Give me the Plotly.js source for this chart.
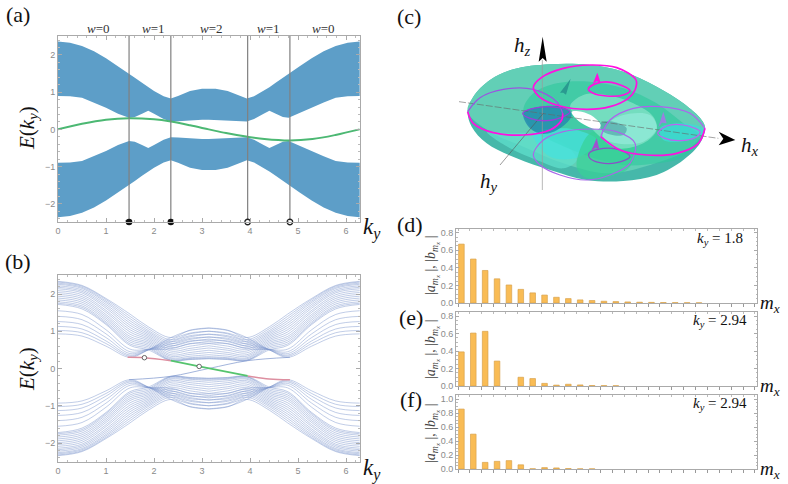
<!DOCTYPE html>
<html>
<head>
<meta charset="utf-8">
<script src="https://cdn.plot.ly/plotly-3.0.1.min.js"></script>
<style>html,body{margin:0;padding:0;background:#fff}</style>
</head>
<body>
<div id="my_plot" style="width:788px;height:484px"></div>
<script>
// panel (a): band edges, read at these ky on the left half, the right half mirrors it
var ky_half = [0, .25, .5, .75, 1, 1.25, 1.48, 1.6, 1.75, 1.88, 2, 2.2, 2.35, 2.5, 2.75, 3, 3.14];
var band_outer = [2.36, 2.33, 2.24, 2.1, 1.91, 1.70, 1.50, 1.39, 1.25, 1.13, 1.03, .89, .83, .90, 1.03, 1.09, 1.10];
var band_inner = [.90, .89, .85, .72, .58, .42, .31, .33, .42, .50, .42, .28, .21, .22, .25, .26, .26];
var edge_ky = [0, .5, 1, 1.48, 2, 2.35, 2.75, 3.14, 3.5, 3.95, 4.3, 4.83, 5.3, 5.78, 6.28];
var edge_E = [0, .15, .26, .30, .27, .21, .11, 0, -.1, -.2, -.26, -.3, -.26, -.15, 0];
var transition_ky = [1.48, 2.35, 3.95, 4.83];
var winding_labels = ["w=0", "w=1", "w=2", "w=1", "w=0"];

// panel (b): one value per level at each knot
var level_ky = [0, .5, 1, 1.5, 1.88, 2.35, 2.75, 3.14];
var lev_0 = [.93, 1.02, 1.13, 1.26, 1.40, 1.55, 1.72, 1.75, 1.79, 1.84, 1.89, 1.94, 1.99, 2.04, 2.09, 2.14, 2.18, 2.22, 2.26, 2.29, 2.32, 2.34];
var lev_05 = [.87, .96, 1.06, 1.18, 1.31, 1.45, 1.60, 1.64, 1.68, 1.73, 1.78, 1.83, 1.88, 1.93, 1.98, 2.03, 2.07, 2.11, 2.15, 2.18, 2.21, 2.23];
var lev_1 = [.60, .67, .74, .83, .93, 1.04, 1.18, 1.21, 1.25, 1.30, 1.35, 1.40, 1.45, 1.51, 1.56, 1.62, 1.67, 1.72, 1.77, 1.81, 1.85, 1.88];
var lev_15 = [.30, .33, .36, .40, .45, .52, .62, .66, .71, .76, .81, .86, .92, .98, 1.04, 1.10, 1.16, 1.22, 1.28, 1.34, 1.40, 1.46];
var lev_188 = [.50, .50, .50, .51, .51, .51, .50, .54, .58, .62, .66, .70, .74, .78, .82, .86, .90, .94, .98, 1.02, 1.07, 1.12];
var lev_235 = [.83, .77, .71, .65, .59, .53, .21, .22, .23, .26, .29, .33, .37, .42, .47, .52, .57, .62, .67, .72, .77, .83];
var lev_275 = [1.02, .95, .88, .81, .74, .67, .24, .25, .27, .29, .33, .38, .43, .49, .54, .60, .66, .72, .78, .85, .93, 1.03];
var lev_pi = [1.08, 1.00, .92, .84, .76, .68, .26, .27, .29, .32, .37, .43, .49, .55, .61, .67, .73, .79, .85, .92, 1.00, 1.09];
var red_left_ky = [1.45, 1.8, 2.35];
var red_left_E = [.30, .29, .21];
var green_ky = [2.35, 2.94, 3.95];
var green_E = [.21, .055, -.2];
var red_right_ky = [3.95, 4.4, 4.83];
var red_right_E = [-.2, -.28, -.3];
var blue_edge_ky = [1.48, 2.35, 3.14, 3.95, 4.83];
var blue_edge_E = [-.3, -.21, 0, .21, .3];
var mark_ky = [1.8, 2.94];
var mark_E = [.29, .055];

// panels (d) (e) (f): bar heights
var mx = [];
for (var m = 0; m < 25; m++) mx.push(m);
var bars_d = [.67, .50, .37, .275, .205, .155, .115, .09, .065, .05, .035, .028, .02, .016, .012, .009, .007, .005, .004, .003, .002, null, null, null, null];
var bars_e = [.39, .605, .625, .285, null, .10, .085, .03, .01, .02, .012, .005, .004, .003, null, null, null, null, null, null, null, null, null, null, null];
var bars_f = [.86, .50, .095, .11, .12, .06, .003, .02, .015, .006, .002, .002, null, null, null, null, null, null, null, null, null, null, null, null, null];

// panel (c): outlines (x to the right, y downwards, 3 units per pixel)
var torus_x = [233, 250, 300, 370, 480, 600, 700, 800, 880, 935, 945, 930, 880, 800, 700, 590, 480, 380, 290, 245, 233];
var torus_y = [335, 290, 240, 208, 193, 195, 215, 260, 310, 360, 385, 430, 480, 525, 543, 540, 510, 475, 430, 380, 335];
var top_x = [233, 250, 300, 370, 480, 600, 700, 800, 880, 935, 945, 900, 780, 650, 520, 400, 300, 233];
var top_y = [335, 290, 240, 208, 193, 195, 215, 260, 310, 360, 385, 445, 495, 520, 490, 440, 395, 335];
var ring_x = [400, 430, 500, 600, 700, 800, 880, 930, 880, 800, 700, 600, 500, 430, 400];
var ring_y = [330, 280, 250, 245, 265, 310, 370, 410, 470, 490, 495, 470, 430, 390, 330];
var inner_x = [540, 580, 650, 730, 790, 800, 760, 680, 630, 590, 540];
var inner_y = [320, 285, 285, 310, 350, 390, 430, 445, 410, 370, 320];
var shade_x = [400, 440, 520, 545, 510, 460, 420, 400];
var shade_y = [340, 322, 322, 345, 385, 402, 385, 340];
var cyan_x = [430, 510, 560, 620, 570, 480, 430];
var cyan_y = [400, 385, 390, 420, 470, 470, 400];
var lower_left_x = [290, 350, 430, 520, 560, 520, 440, 360, 290];
var lower_left_y = [395, 400, 400, 430, 480, 505, 480, 445, 395];
var green_patch_x = [600, 650, 730, 720, 660, 590, 560, 600];
var green_patch_y = [400, 400, 440, 500, 530, 535, 500, 400];
var light_x = [650, 700, 780, 800, 760, 680, 640, 650];
var light_y = [375, 345, 345, 385, 425, 430, 410, 375];
var dark_x = [630, 670, 710, 700, 640, 630];
var dark_y = [370, 365, 385, 405, 395, 370];
var right_x = [810, 860, 930, 945, 900, 820, 810];
var right_y = [385, 370, 380, 395, 420, 420, 385];
var hole_x = [545, 575, 610, 632, 625, 590, 560, 545];
var hole_y = [335, 335, 350, 375, 388, 378, 358, 335];

var left_front_x = [233, 250, 310, 400, 480, 515, 518];
var left_front_y = [335, 370, 398, 405, 390, 360, 340];
var left_back_x = [233, 270, 340, 430, 500, 518];
var left_back_y = [335, 293, 268, 268, 305, 340];
var left_small_x = [398, 430, 500, 540, 520, 470, 420, 398];
var left_small_y = [340, 325, 322, 335, 350, 362, 355, 340];
var top_big_x = [430, 455, 520, 600, 680, 738, 735, 715, 660, 590, 510, 450, 430];
var top_big_y = [262, 232, 205, 195, 203, 240, 270, 295, 320, 328, 318, 292, 262];
var top_small_x = [595, 620, 665, 720, 700, 650, 610, 595];
var top_small_y = [267, 250, 247, 272, 285, 288, 280, 267];
var low_big_x = [430, 460, 520, 600, 680, 735, 720, 660, 590, 510, 450, 430];
var low_big_y = [465, 420, 395, 387, 395, 430, 490, 525, 540, 525, 495, 465];
var low_small_x = [597, 640, 690, 720, 680, 630, 600, 597];
var low_small_y = [460, 445, 450, 470, 488, 488, 475, 460];
var right_front_x = [632, 690, 770, 860, 925, 945];
var right_front_y = [410, 450, 465, 460, 430, 385];
var right_back_x = [632, 660, 730, 810, 900, 945];
var right_back_y = [410, 360, 325, 320, 340, 385];
var right_small_x = [803, 830, 880, 930, 920, 870, 825, 803];
var right_small_y = [400, 378, 375, 395, 410, 422, 415, 400];

var head_top_x = [608, 622, 632, 620, 608];
var head_top_y = [252, 218, 248, 244, 252];
var head_low_x = [604, 620, 628, 616, 604];
var head_low_y = [452, 415, 448, 444, 452];
var head_right_x = [805, 820, 830, 816, 805];
var head_right_y = [382, 335, 370, 368, 382];
var head_back_x = [510, 542, 528, 520, 510];
var head_back_y = [278, 236, 284, 278, 278];
var arrow_z_x = [446, 458, 470, 458, 446];
var arrow_z_y = [185, 110, 185, 174, 185];
var arrow_x_x = [986, 1036, 986, 1000, 986];
var arrow_x_y = [395, 420, 436, 416, 395];

var full_ky = ky_half.concat(ky_half.slice().reverse().map(function (k) { return 2 * Math.PI - k; }));
function mirror(vals) { return vals.concat(vals.slice().reverse()); }
function neg(vals) { return vals.map(function (v) { return -v; }); }

var W = 788, H = 484;
function dx(a, b) { return [a / W, b / W]; }
function dy(top, bottom) { return [1 - bottom / H, 1 - top / H]; }

var data = [];

// --- (a)
var outer = mirror(band_outer), inner = mirror(band_inner);
data.push({ x: full_ky.concat(full_ky.slice().reverse()), y: outer.concat(inner.slice().reverse()), mode: "lines",
    fill: "toself", fillcolor: "#5d9ec8", line: { width: 0 }, xaxis: "x", yaxis: "y" });
data.push({ x: full_ky.concat(full_ky.slice().reverse()), y: neg(outer).concat(neg(inner).reverse()), mode: "lines",
    fill: "toself", fillcolor: "#5d9ec8", line: { width: 0 }, xaxis: "x", yaxis: "y" });
data.push({ x: edge_ky, y: edge_E, mode: "lines", line: { color: "#4cb873", width: 2, shape: "spline" }, xaxis: "x", yaxis: "y" });
transition_ky.forEach(function (k) {
    data.push({ x: [k, k], y: [-2.49, 2.51], mode: "lines", line: { color: "#808080", width: 1.2 }, xaxis: "x", yaxis: "y" });
});
data.push({ x: transition_ky.slice(0, 2), y: [-2.49, -2.49], mode: "markers", cliponaxis: false,
    marker: { color: "#111", size: 6.5 }, xaxis: "x", yaxis: "y" });
data.push({ x: transition_ky.slice(2), y: [-2.49, -2.49], mode: "markers", cliponaxis: false,
    marker: { color: "#fff", size: 5.5, line: { color: "#222", width: 1.3 } }, xaxis: "x", yaxis: "y" });

// --- (b)
var knots = [lev_0, lev_05, lev_1, lev_15, lev_188, lev_235, lev_275, lev_pi];
var level_full = level_ky.concat(level_ky.slice().reverse().map(function (k) { return 2 * Math.PI - k; }));
var level_line = { color: "rgba(125,150,205,0.6)", width: 0.8, shape: "spline" };
for (var i = 0; i < lev_0.length; i++) {
    var half = knots.map(function (arr) { return arr[i]; });
    var line_E = mirror(half);
    data.push({ x: level_full, y: line_E, mode: "lines", line: level_line, xaxis: "x2", yaxis: "y2" });
    data.push({ x: level_full, y: neg(line_E), mode: "lines", line: level_line, xaxis: "x2", yaxis: "y2" });
}
data.push({ x: blue_edge_ky, y: blue_edge_E, mode: "lines", line: { color: "rgba(125,150,205,0.8)", width: 0.9, shape: "spline" }, xaxis: "x2", yaxis: "y2" });
data.push({ x: red_left_ky, y: red_left_E, mode: "lines", line: { color: "#dd8fa0", width: 1.5, shape: "spline" }, xaxis: "x2", yaxis: "y2" });
data.push({ x: red_right_ky, y: red_right_E, mode: "lines", line: { color: "#dd8fa0", width: 1.5, shape: "spline" }, xaxis: "x2", yaxis: "y2" });
data.push({ x: green_ky, y: green_E, mode: "lines", line: { color: "#55c46e", width: 1.8, shape: "spline" }, xaxis: "x2", yaxis: "y2" });
data.push({ x: mark_ky, y: mark_E, mode: "markers", marker: { color: "#fff", size: 4.5, line: { color: "#444", width: 0.8 } }, xaxis: "x2", yaxis: "y2" });

// --- (d) (e) (f)
[[bars_d, "x3", "y3", "x7"], [bars_e, "x4", "y4", "x8"], [bars_f, "x5", "y5", "x9"]].forEach(function (b) {
    data.push({ type: "bar", x: mx, y: b[0], width: 0.47, offset: 0.05,
        marker: { color: "#f9bc55", line: { color: "#d9a24c", width: 0.7 } }, xaxis: b[1], yaxis: b[2] });
    // empty trace, only so the top tick row of the frame is drawn
    data.push({ x: [null], y: [null], mode: "lines", xaxis: b[3], yaxis: b[2] });
});

// --- (c)
function patch(xs, ys, color) {
    data.push({ x: xs, y: ys, mode: "lines", fill: "toself", fillcolor: color,
        line: { width: 0.5, color: "rgba(0,0,0,0)", shape: "spline", smoothing: 1 }, xaxis: "x6", yaxis: "y6" });
}
function curve(xs, ys, color, width) {
    data.push({ x: xs, y: ys, mode: "lines", line: { color: color, width: width, shape: "spline" }, xaxis: "x6", yaxis: "y6" });
}
function head(xs, ys, color) {
    data.push({ x: xs, y: ys, mode: "lines", fill: "toself", fillcolor: color, line: { width: 0 }, xaxis: "x6", yaxis: "y6" });
}
patch(torus_x, torus_y, "#46b8aa");
patch(top_x, top_y, "#62cfb6");
patch(lower_left_x, lower_left_y, "rgba(95,225,205,0.7)");
patch(ring_x, ring_y, "rgba(45,200,155,0.6)");
patch(cyan_x, cyan_y, "rgba(70,225,220,0.75)");
patch(green_patch_x, green_patch_y, "rgba(55,210,150,0.7)");
patch(inner_x, inner_y, "rgba(125,225,195,0.85)");
patch(light_x, light_y, "rgba(150,235,220,0.7)");
patch(dark_x, dark_y, "rgba(40,120,140,0.4)");
patch(shade_x, shade_y, "rgba(35,135,175,0.8)");
patch(right_x, right_y, "rgba(60,220,220,0.7)");
patch(hole_x, hole_y, "#ffffff");

data.push({ x: [207, 985], y: [305, 415], mode: "lines", line: { color: "#666", width: 0.6, dash: "7px,2px" }, xaxis: "x6", yaxis: "y6" });
data.push({ x: [457, 457], y: [180, 570], mode: "lines", line: { color: "#999", width: 0.7 }, xaxis: "x6", yaxis: "y6" });
data.push({ x: [460, 330], y: [340, 495], mode: "lines", line: { color: "#555", width: 0.6 }, xaxis: "x6", yaxis: "y6" });

curve(left_back_x, left_back_y, "#9a55e0", 1.3);
curve(left_small_x, left_small_y, "#9a40d8", 1.3);
curve(low_big_x, low_big_y, "#a868e8", 1.2);
curve(low_small_x, low_small_y, "#8a50c8", 1.2);
curve(right_back_x, right_back_y, "#b060f0", 1.2);
curve(right_small_x, right_small_y, "#c060f0", 1.2);
curve(left_front_x, left_front_y, "#ff10e0", 1.7);
curve(top_big_x, top_big_y, "#ff10e0", 1.7);
curve(top_small_x, top_small_y, "#ff10e0", 1.7);
curve(right_front_x, right_front_y, "#ff10e0", 1.7);
head(head_top_x, head_top_y, "#ff10e0");
head(head_low_x, head_low_y, "#a050d0");
head(head_right_x, head_right_y, "#9a80e0");
head(head_back_x, head_back_y, "#2a9a90");
head(arrow_z_x, arrow_z_y, "#000");
head(arrow_x_x, arrow_x_y, "#000");

// --- axes
var tick_font = { family: "Liberation Sans, sans-serif", size: 9, color: "#8a8a8a" };
function band_axes(dom_x, dom_y, anchor_x, anchor_y, ymin, ymax) {
    return [{
        domain: dom_x, anchor: anchor_y, range: [0, 6.29], tick0: 0, dtick: 1, ticks: "inside", ticklen: 4, tickcolor: "#aaa",
        minor: { dtick: 0.2, ticks: "inside", ticklen: 2, tickcolor: "#bbb" }, mirror: "ticks", showline: true, linecolor: "#aaa", linewidth: 1,
        showgrid: false, zeroline: false, tickfont: tick_font
    }, {
        domain: dom_y, anchor: anchor_x, range: [ymin, ymax], tick0: 0, dtick: 1, ticks: "inside", ticklen: 4, tickcolor: "#aaa",
        minor: { dtick: 0.2, ticks: "inside", ticklen: 2, tickcolor: "#bbb" }, mirror: "ticks", showline: true, linecolor: "#aaa", linewidth: 1,
        showgrid: false, zeroline: false, tickfont: tick_font
    }];
}
var bar_range = [-0.17, 25.17];
function bar_axes(dom_y, anchor_x, anchor_y, ymax, step) {
    return [{
        domain: dx(456, 757), anchor: anchor_y, range: bar_range, tick0: 0, dtick: 1, ticks: "outside", ticklen: 3, tickcolor: "#999",
        showticklabels: false, mirror: true, showline: true, linecolor: "#aaa", linewidth: 1, showgrid: false, zeroline: false
    }, {
        domain: dom_y, anchor: anchor_x, range: [0, ymax], tick0: 0, dtick: step, ticks: "inside", ticklen: 3, tickcolor: "#aaa", tickformat: ".1f",
        minor: { dtick: step / 4, ticks: "inside", ticklen: 1.5, tickcolor: "#bbb" }, mirror: "ticks", showline: true, linecolor: "#aaa", linewidth: 1,
        showgrid: false, zeroline: false, tickfont: tick_font
    }];
}
function top_ticks(over, anchor_y) {
    return { overlaying: over, anchor: anchor_y, side: "top", range: bar_range, tick0: 0, dtick: 1, ticks: "inside", ticklen: 2, tickcolor: "#bbb",
        showticklabels: false, showgrid: false, zeroline: false };
}
var ax_a = band_axes(dx(58, 360), dy(36, 222), "x", "y", -2.49, 2.51);
var ax_b = band_axes(dx(58, 360), dy(275, 462), "x2", "y2", -2.51, 2.51);
var ax_d = bar_axes(dy(229, 303), "x3", "y3", 0.842, 0.2);
var ax_e = bar_axes(dy(312, 386), "x4", "y4", 0.846, 0.2);
var ax_f = bar_axes(dy(395, 469), "x5", "y5", 1.062, 0.2);

// --- text
var serif = "Liberation Serif, serif";
function label(px, py, text, size, color, angle) {
    return { xref: "paper", yref: "paper", x: px / W, y: 1 - py / H, text: text, showarrow: false, xanchor: "center", yanchor: "middle",
        font: { family: serif, size: size, color: color || "#111" }, textangle: angle || 0 };
}
var sub = "<i>k<sub>y</sub></i>";
var bar_title = "|<i>a<sub>m<sub>x</sub></sub></i> |, |<i>b<sub>m<sub>x</sub></sub></i> |";
var annotations = [
    label(18, 15, "(a)", 22), label(18, 261, "(b)", 22), label(409, 16, "(c)", 22),
    label(410, 224, "(d)", 22), label(411, 317, "(e)", 22), label(411, 399, "(f)", 22),
    label(372, 228, sub, 23), label(372, 469, sub, 23),
    label(28, 128, "<i>E</i>(" + sub + ")", 21, "#111", -90), label(28, 369, "<i>E</i>(" + sub + ")", 21, "#111", -90),
    label(522, 46, "<i>h<sub>z</sub></i>", 21), label(750, 146, "<i>h<sub>x</sub></i>", 21), label(489, 182, "<i>h<sub>y</sub></i>", 21),
    label(720, 239, sub + " = 1.8", 15), label(720, 321, sub + " = 2.94", 15), label(720, 404, sub + " = 2.94", 15),
    label(770, 304, "<i>m<sub>x</sub></i>", 19), label(770, 387, "<i>m<sub>x</sub></i>", 19), label(770, 470, "<i>m<sub>x</sub></i>", 19),
    label(432, 266, bar_title, 14, "#444", -90), label(432, 350, bar_title, 14, "#444", -90), label(432, 434, bar_title, 14, "#444", -90)
];
var winding_px = [98, 153, 211, 268, 323];
winding_labels.forEach(function (t, i) {
    annotations.push(label(winding_px[i], 28, "<i>w</i>=" + t.slice(2), 13, "#333"));
});

var layout = {
    width: W, height: H, margin: { l: 0, r: 0, t: 0, b: 0 }, showlegend: false, paper_bgcolor: "#fff", plot_bgcolor: "rgba(0,0,0,0)",
    hovermode: false, barmode: "overlay", annotations: annotations,
    xaxis: ax_a[0], yaxis: ax_a[1], xaxis2: ax_b[0], yaxis2: ax_b[1],
    xaxis3: ax_d[0], yaxis3: ax_d[1], xaxis4: ax_e[0], yaxis4: ax_e[1], xaxis5: ax_f[0], yaxis5: ax_f[1],
    xaxis6: { domain: dx(390, 788), anchor: "y6", range: [0, 1194], visible: false },
    yaxis6: { domain: dy(0, 210), anchor: "x6", range: [630, 0], visible: false },
    xaxis7: top_ticks("x3", "y3"), xaxis8: top_ticks("x4", "y4"), xaxis9: top_ticks("x5", "y5")
};

Plotly.newPlot("my_plot", data, layout, { displayModeBar: false, staticPlot: true });
</script>
</body>
</html>
